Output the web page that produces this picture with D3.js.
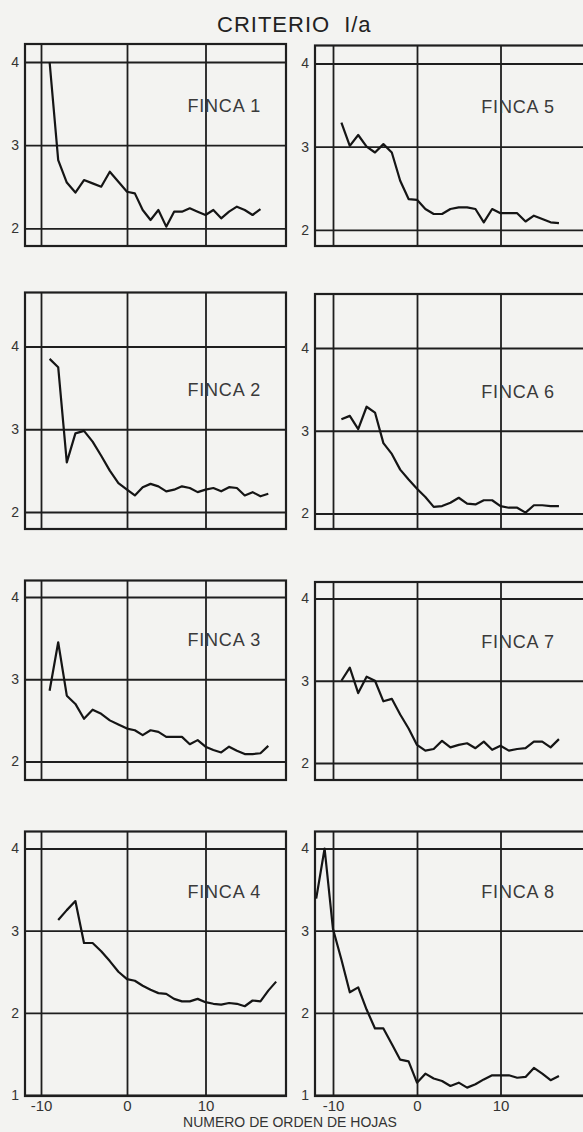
<!DOCTYPE html>
<html>
<head>
<meta charset="utf-8">
<script src="https://cdn.jsdelivr.net/npm/d3@7"></script>
<style>
  body { margin: 0; background: #f3f3f1; }
  svg { display: block; font-family: "Liberation Sans", Arial, sans-serif; }
</style>
</head>
<body>
<svg id="chart" width="583" height="1132"></svg>
<script>

// leaf order ticks shown on the x axis
var hojaTicks = [-10, 0, 10];

// values read per leaf, first value at the given leaf number
var finca1Start = -9;
var finca1 = [4.0, 2.82, 2.55, 2.43, 2.58, 2.54, 2.5, 2.68, 2.56, 2.44, 2.42, 2.22, 2.1, 2.22, 2.02, 2.2, 2.2, 2.24, 2.2, 2.16, 2.22, 2.12, 2.2, 2.26, 2.22, 2.16, 2.23];

var finca2Start = -9;
var finca2 = [3.85, 3.75, 2.6, 2.95, 2.98, 2.85, 2.68, 2.5, 2.35, 2.27, 2.2, 2.3, 2.34, 2.31, 2.25, 2.27, 2.31, 2.29, 2.24, 2.27, 2.29, 2.25, 2.3, 2.29, 2.2, 2.24, 2.19, 2.22];

var finca3Start = -9;
var finca3 = [2.86, 3.45, 2.8, 2.7, 2.52, 2.63, 2.58, 2.5, 2.45, 2.4, 2.38, 2.32, 2.38, 2.36, 2.3, 2.3, 2.3, 2.21, 2.26, 2.18, 2.14, 2.11, 2.18, 2.13, 2.09, 2.09, 2.1, 2.19];

var finca4Start = -8;
var finca4 = [3.13, 3.25, 3.36, 2.85, 2.85, 2.75, 2.63, 2.5, 2.41, 2.39, 2.33, 2.28, 2.24, 2.23, 2.17, 2.14, 2.14, 2.17, 2.13, 2.11, 2.1, 2.12, 2.11, 2.08, 2.15, 2.14, 2.27, 2.38];

var finca5Start = -9;
var finca5 = [3.29, 3.01, 3.14, 3.0, 2.93, 3.03, 2.93, 2.59, 2.37, 2.36, 2.25, 2.19, 2.19, 2.25, 2.27, 2.27, 2.25, 2.09, 2.25, 2.2, 2.2, 2.2, 2.1, 2.17, 2.13, 2.09, 2.08];

var finca6Start = -9;
var finca6 = [3.14, 3.18, 3.02, 3.29, 3.22, 2.85, 2.72, 2.53, 2.41, 2.3, 2.2, 2.08, 2.09, 2.13, 2.19, 2.12, 2.11, 2.16, 2.16, 2.09, 2.07, 2.07, 2.01, 2.1, 2.1, 2.09, 2.09];

var finca7Start = -9;
var finca7 = [3.0, 3.16, 2.85, 3.05, 3.0, 2.75, 2.78, 2.59, 2.42, 2.22, 2.15, 2.17, 2.27, 2.19, 2.22, 2.24, 2.18, 2.26, 2.16, 2.21, 2.15, 2.17, 2.18, 2.26, 2.26, 2.19, 2.29];

var finca8Start = -12;
var finca8 = [3.39, 4.0, 3.02, 2.65, 2.25, 2.31, 2.04, 1.81, 1.81, 1.62, 1.43, 1.41, 1.15, 1.26, 1.2, 1.17, 1.11, 1.15, 1.09, 1.13, 1.19, 1.24, 1.24, 1.24, 1.21, 1.22, 1.33, 1.26, 1.18, 1.23];

var fincaNames = ['FINCA 1', 'FINCA 2', 'FINCA 3', 'FINCA 4', 'FINCA 5', 'FINCA 6', 'FINCA 7', 'FINCA 8'];

// layout of the two columns and four rows (pixels)
var columns = [
  { left: 25, right: 286, range: [41, 127, 205.5], shift: 0 },
  { left: 315, right: 600, range: [333, 417, 500.5], shift: 1.5 }
];
var rows = [
  { top: 44, bottom: 246, domain: [2, 4], range: [228.3, 62], ticks: [2, 3, 4] },
  { top: 292.5, bottom: 529, domain: [2, 4], range: [512, 346.5], ticks: [2, 3, 4] },
  { top: 580.5, bottom: 780, domain: [2, 4], range: [761.5, 597], ticks: [2, 3, 4] },
  { top: 831.5, bottom: 1096, domain: [1, 4], range: [1095, 848.5], ticks: [1, 2, 3, 4] }
];

var ink = '#1e1e1e';
var svg = d3.select('#chart');

function drawPanel(name, start, values, col, row) {
  var c = columns[col];
  var r = rows[row];
  var isBottom = row === rows.length - 1;
  var top = r.top + (isBottom ? 0 : c.shift);

  var x = d3.scaleLinear().domain(hojaTicks).range(c.range);
  var y = d3.scaleLinear().domain(r.domain).range(r.range.map(function (v) { return v + (isBottom ? 0 : c.shift); }));

  var g = svg.append('g').attr('class', 'panel');

  // horizontal grid + y labels
  var yAxis = g.append('g')
    .attr('transform', 'translate(' + c.left + ',0)')
    .call(d3.axisLeft(y).tickValues(r.ticks).tickSize(-(c.right - c.left)).tickSizeOuter(0).tickPadding(6).tickFormat(d3.format('d')));
  yAxis.select('.domain').remove();
  yAxis.selectAll('line').attr('stroke', ink).attr('stroke-width', 1.8);
  yAxis.selectAll('text').attr('font-size', 14).attr('fill', '#333').attr('font-family', null);

  // vertical grid + x labels on the last row
  var xAxis = g.append('g')
    .attr('transform', 'translate(0,' + r.bottom + ')')
    .call(d3.axisBottom(x).tickValues(hojaTicks).tickSize(-(r.bottom - top)).tickSizeOuter(0).tickPadding(4)
      .tickFormat(function (d) { return isBottom ? (d < 0 ? '-' + Math.abs(d) : String(d)) : ''; }));
  xAxis.select('.domain').remove();
  xAxis.selectAll('line').attr('stroke', ink).attr('stroke-width', 1.8);
  xAxis.selectAll('text').attr('font-size', 15).attr('fill', '#333').attr('font-family', null);

  // frame
  g.append('rect')
    .attr('x', c.left)
    .attr('y', top)
    .attr('width', c.right - c.left)
    .attr('height', r.bottom - top)
    .attr('fill', 'none')
    .attr('stroke', ink)
    .attr('stroke-width', 2.2);

  var line = d3.line()
    .x(function (d, i) { return x(start + i); })
    .y(function (d) { return y(d); });

  g.append('path')
    .datum(values)
    .attr('d', line)
    .attr('fill', 'none')
    .attr('stroke', '#151515')
    .attr('stroke-width', 2.2)
    .attr('stroke-linejoin', 'round');

  g.append('text')
    .attr('x', x(7.7))
    .attr('y', y(3.4))
    .attr('font-size', 18)
    .attr('letter-spacing', 0.8)
    .attr('fill', '#3a3a3a')
    .text(name);
}

drawPanel(fincaNames[0], finca1Start, finca1, 0, 0);
drawPanel(fincaNames[1], finca2Start, finca2, 0, 1);
drawPanel(fincaNames[2], finca3Start, finca3, 0, 2);
drawPanel(fincaNames[3], finca4Start, finca4, 0, 3);
drawPanel(fincaNames[4], finca5Start, finca5, 1, 0);
drawPanel(fincaNames[5], finca6Start, finca6, 1, 1);
drawPanel(fincaNames[6], finca7Start, finca7, 1, 2);
drawPanel(fincaNames[7], finca8Start, finca8, 1, 3);

// title
var title = svg.append('text')
  .attr('x', 217)
  .attr('y', 32)
  .attr('font-size', 22)
  .attr('letter-spacing', 1)
  .attr('fill', '#222');
title.append('tspan').text('CRITERIO');
title.append('tspan').attr('dx', 14).text('I/a');

// x axis title
svg.append('text')
  .attr('x', 290)
  .attr('y', 1127)
  .attr('text-anchor', 'middle')
  .attr('font-size', 14)
  .attr('fill', '#333')
  .text('NUMERO DE ORDEN DE HOJAS');

</script>
</body>
</html>
